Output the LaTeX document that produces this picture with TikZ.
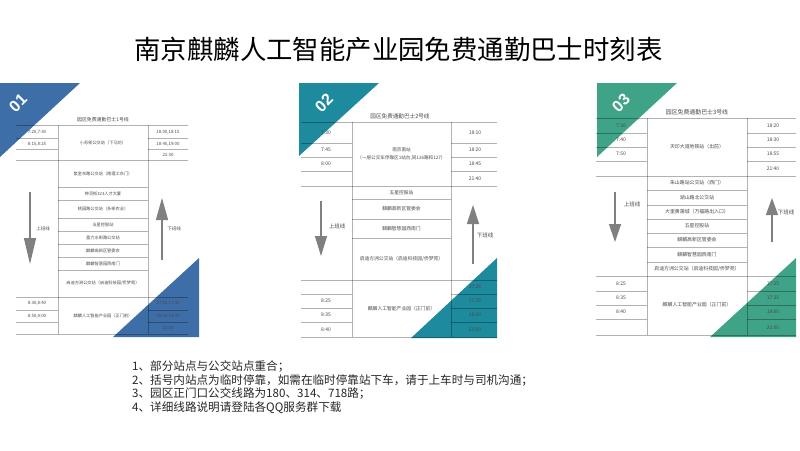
\documentclass[tikz,border=0pt]{standalone}
\usepackage{fontspec}
\setmainfont{Noto Sans CJK SC}
\newfontfamily\numfont{Liberation Sans}
\usetikzlibrary{arrows.meta}
\definecolor{cblue}{HTML}{3D6EA8}
\definecolor{cteal}{HTML}{1E8A9E}
\definecolor{cgreen}{HTML}{3FA388}
\definecolor{txtc}{HTML}{4A4A4A}
\definecolor{arrowc}{HTML}{808080}
\tikzset{
  rulel/.style={draw=black,draw opacity=0.3,line width=0.6pt},
  celltext/.style={font=\fontsize{#1}{8}\selectfont,text=txtc,inner sep=0pt,align=center},
  headtext/.style={font=\fontsize{#1}{7}\selectfont,text=txtc,inner sep=0pt},
  sidetext/.style={font=\fontsize{#1}{7}\selectfont,text=txtc,inner sep=0pt},
  bigarrow/.style={draw=arrowc,line width=1.3pt,-{Triangle[length=#1,width=12pt]}},
  badge/.style={font=\numfont\bfseries\fontsize{16}{16}\selectfont,text=white,rotate=45,inner sep=0pt},
  notes/.style={font=\fontsize{11.6}{13}\selectfont,text=black!85,anchor=west,inner sep=0pt},
}
\begin{document}
\begin{tikzpicture}[x=1pt,y=-1pt]
\useasboundingbox (0,0) rectangle (800,450);
\fill[white] (0,0) rectangle (800,450);
\node[font=\fontsize{26.4}{30}\selectfont,text=black,inner sep=0pt] (title) at (398.5,49) {南京麒麟人工智能产业园免费通勤巴士时刻表};

% ---------- triangles
\fill[cblue]  (0,83)--(80,83)--(0,157)--cycle;
\fill[cblue]  (199,258)--(199,337)--(113,337)--cycle;
\fill[cteal]  (299,83)--(379,83)--(299,156)--cycle;
\fill[cteal]  (497,258)--(497,338)--(411,338)--cycle;
\fill[cgreen] (597,83)--(677,83)--(597,157)--cycle;
\fill[cgreen] (796,258)--(796,337)--(710,337)--cycle;
\node[badge] (b1) at (18,103) {01};
\node[badge] (b2) at (324,103) {02};
\node[badge] (b3) at (621,103) {03};

% ---------- panel 1
\node[headtext=4.9] (t1) at (103,120) {园区免费通勤巴士1号线};
\foreach \y in {125,160,297,334} { \draw[rulel] (16,\y)--(188,\y); }
\foreach \y in {138,149,310,322} { \draw[rulel] (16,\y)--(58,\y) (148,\y)--(188,\y); }
\foreach \y in {187,200,218,231,244,257,270} { \draw[rulel] (58,\y)--(148,\y); }
\draw[rulel] (58,125)--(58,334) (148,125)--(148,334);
\foreach \n/\x/\y/\s in {a/37/132/{7:20,7:30},b/37/144/{8:15,8:25},c/37/303/{8:30,8:40},d/37/316/{8:50,9:00},
  e/168/132/{18:00,18:15},f/168/144/{18:45,19:00},g/168/155/{21:30},h/168/303/{17:15,17:30},i/168/316/{18:00,18:30},j/168/328/{21:00}} {
  \node[celltext=4.4] (p1\n) at (\x,\y) {\s};
}
\foreach \n/\y/\s in {a/143/{小苏街公交站（下马坊）},b/174/{紫金东路公交站（南理工东门）},c/193.5/{钟灵街323人才大厦},
  d/209/{桃园路公交站（多彬农业）},e/224.5/{五星控股站},f/237.5/{富力水街路公交站},g/250.5/{麒麟高新区管委会},
  h/263.5/{麒麟智慧园西南门},i/283.5/{启迪方洲公交站（启迪科技园/侨梦苑）},j/316/{麒麟人工智能产业园（正门前）}} {
  \node[celltext=4.2] (p1m\n) at (103,\y) {\s};
}
\coordinate (a1s) at (30,192); \coordinate (a1e) at (30,264);
\coordinate (a2s) at (162,260); \coordinate (a2e) at (162,198);
\draw[bigarrow=26pt] (a1s)--(a1e);
\draw[bigarrow=22pt] (a2s)--(a2e);
\node[sidetext=4.5] (u1) at (43,229) {上班线};
\node[sidetext=4.5] (d1) at (174,229) {下班线};

% ---------- panel 2
\node[headtext=5.6] (t2) at (400,116) {园区免费通勤巴士2号线};
\foreach \y in {122,186,280,337} { \draw[rulel] (301,\y)--(497,\y); }
\foreach \y in {143,157,171,294,308,322} { \draw[rulel] (301,\y)--(352,\y) (451,\y)--(497,\y); }
\foreach \y in {199,219,238} { \draw[rulel] (352,\y)--(451,\y); }
\draw[rulel] (352,122)--(352,337) (451,122)--(451,337);
\foreach \n/\x/\y/\s in {a/326/133/7:30,b/326/150/7:45,c/326/164/8:00,d/326/301/8:25,e/326/315/8:35,f/326/330/8:40,
  g/475/133/18:10,h/475/150/18:20,i/475/164/18:45,j/475/179/21:40,k/475/287/17:25,l/475/301/17:35,m/475/315/18:00,n/475/330/21:00} {
  \node[celltext=5] (p2\n) at (\x,\y) {\s};
}
\foreach \n/\y/\s in {b/192.5/{五星控股站},c/209/{麒麟高新区管委会},d/228.5/{麒麟智慧园西南门},
  e/259/{启迪方洲公交站（启迪科技园/侨梦苑）},f/309/{麒麟人工智能产业园（正门前）}} {
  \node[celltext=4.8] (p2m\n) at (401.5,\y) {\s};
}
\node[celltext=4.6] (p2ma) at (401.5,154) {南京南站\\（一层公交车停靠区1站台,同126路和127）};
\coordinate (b1s) at (321,201); \coordinate (b1e) at (321,256);
\coordinate (b2s) at (473,264); \coordinate (b2e) at (473,205);
\draw[bigarrow=20pt] (b1s)--(b1e);
\draw[bigarrow=19pt] (b2s)--(b2e);
\node[sidetext=5.5] (u2) at (337,226) {上班线};
\node[sidetext=5.5] (d2) at (485,235) {下班线};

% ---------- panel 3
\node[headtext=5.9] (t3) at (697,112) {园区免费通勤巴士3号线};
\foreach \y in {118,176,276,335} { \draw[rulel] (596,\y)--(796,\y); }
\foreach \y in {133,147,161,291,305,319} { \draw[rulel] (596,\y)--(647,\y) (747,\y)--(796,\y); }
\foreach \y in {190,205,219,233,247,262} { \draw[rulel] (647,\y)--(747,\y); }
\draw[rulel] (647,118)--(647,335) (747,118)--(747,335);
\foreach \n/\x/\y/\s in {a/621/125.5/7:30,b/621/140/7:40,c/621/154/7:50,d/621/284/8:25,e/621/298/8:35,f/621/312/8:40,
  g/773/125.5/18:20,h/773/140/18:30,i/773/154/18:55,j/773/169/21:40,k/773/284/17:25,l/773/298/17:35,m/773/312/18:00,n/773/328/21:00} {
  \node[celltext=5] (p3\n) at (\x,\y) {\s};
}
\foreach \n/\y/\s in {a/147/{天印大道地铁站（出前）},b/183/{朱山路站公交站（西门）},c/197.5/{湖山路北公交站},
  d/212/{大里黄蒲城（万福路出入口）},e/226/{五星控股站},f/240/{麒麟高新区管委会},g/254.5/{麒麟智慧园西南门},
  h/269/{启迪方洲公交站（启迪科技园/侨梦苑）},i/305/{麒麟人工智能产业园（正门前）}} {
  \node[celltext=4.9] (p3m\n) at (697,\y) {\s};
}
\coordinate (c1s) at (615,192); \coordinate (c1e) at (615,242);
\coordinate (c2s) at (772,242); \coordinate (c2e) at (772,198);
\draw[bigarrow=18pt] (c1s)--(c1e);
\draw[bigarrow=17pt] (c2s)--(c2e);
\node[sidetext=5.5] (u3) at (632,204) {上班线};
\node[sidetext=5.5] (d3) at (786,212) {下班线};

% ---------- notes
\node[notes] (n1) at (132,367) {1、部分站点与公交站点重合；};
\node[notes] (n2) at (132,381) {2、括号内站点为临时停靠，如需在临时停靠站下车，请于上车时与司机沟通；};
\node[notes] (n3) at (132,394) {3、园区正门口公交线路为180、314、718路；};
\node[notes] (n4) at (132,408) {4、详细线路说明请登陆各QQ服务群下载};
\end{tikzpicture}
\end{document}
